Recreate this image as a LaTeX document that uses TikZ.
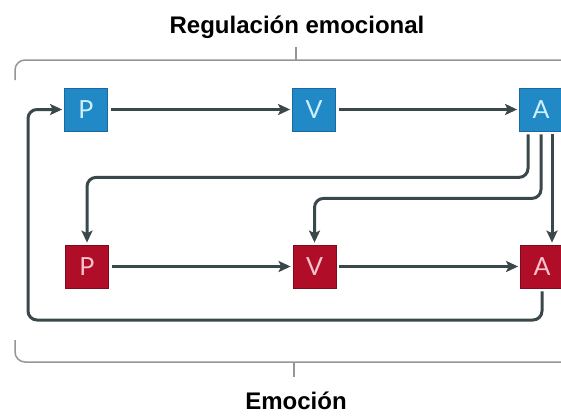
\documentclass[tikz,border=0pt]{standalone}
\usepackage{fontspec}
\setmainfont{Liberation Sans}
\newfontfamily\boxfont{Lato}
\usetikzlibrary{arrows.meta,calc}
\definecolor{boxblue}{RGB}{33,137,198}
\definecolor{boxblueedge}{RGB}{25,105,160}
\definecolor{boxred}{RGB}{176,14,40}
\definecolor{boxrededge}{RGB}{130,10,30}
\definecolor{txtblue}{RGB}{205,240,255}
\definecolor{txtred}{RGB}{248,195,205}
\definecolor{linecol}{RGB}{58,72,76}
\definecolor{brackcol}{RGB}{150,150,150}
\tikzset{
  bbox/.style={draw=boxblueedge, line width=0.8pt, fill=boxblue, text=txtblue, minimum width=43pt, minimum height=43pt, inner sep=0pt, font=\boxfont\fontsize{25}{25}\selectfont},
  rbox/.style={draw=boxrededge, line width=0.8pt, fill=boxred, text=txtred, minimum width=43pt, minimum height=43pt, inner sep=0pt, font=\boxfont\fontsize{25}{25}\selectfont},
  conn/.style={draw=linecol, line width=3pt, rounded corners=9pt, shorten <=3pt, shorten >=2pt, -{Stealth[length=12pt,width=11pt,inset=2.5pt]}},
  brack/.style={draw=brackcol, line width=1.5pt, rounded corners=10pt},
  title/.style={font=\bfseries\fontsize{24}{24}\selectfont, anchor=base, inner sep=0pt}
}
\begin{document}
\begin{tikzpicture}[x=1pt,y=-1pt]
\useasboundingbox (0,0) rectangle (561,415);
\clip (0,0) rectangle (561,415);
\fill[white] (0,0) rectangle (561,415);
% titles
\node[title] (reg) at (297,33) {Regulación emocional};
\node[title] (emo) at (296,409) {Emoción};
% brackets
\draw[brack] (15,80) |- (575,60);
\draw[brack] (15,340) |- (575,362);
\coordinate (tt) at (296,60);
\coordinate (bt) at (294,362);
\draw[draw=brackcol, line width=1.5pt] (tt) -- ++(0,-13);
\draw[draw=brackcol, line width=1.5pt] (bt) -- ++(0,15);
% boxes
\node[bbox] (Pt) at (86,109.5) {P};
\node[bbox] (Vt) at (314,109.5) {V};
\node[bbox] (At) at (541,109.5) {A};
\node[rbox] (Pb) at (87,266.5) {P};
\node[rbox] (Vb) at (314.5,266.5) {V};
\node[rbox] (Ab) at (542,266.5) {A};
% horizontal arrows
\draw[conn] (Pt) -- (Vt);
\draw[conn] (Vt) -- (At);
\draw[conn] (Pb) -- (Vb);
\draw[conn] (Vb) -- (Ab);
% from top A downwards
\draw[conn] ([xshift=-13pt]At.south) -- ++(0,46) -| (Pb.north);
\draw[conn] (At.south) -- ++(0,67) -| (Vb.north);
\draw[conn, rounded corners=0pt] ([xshift=11pt]At.south) -- ([xshift=10pt]Ab.north);
% feedback loop
\coordinate (fb) at (28,320);
\draw[conn] (Ab.south) |- (fb) |- (Pt.west);
\end{tikzpicture}
\end{document}
